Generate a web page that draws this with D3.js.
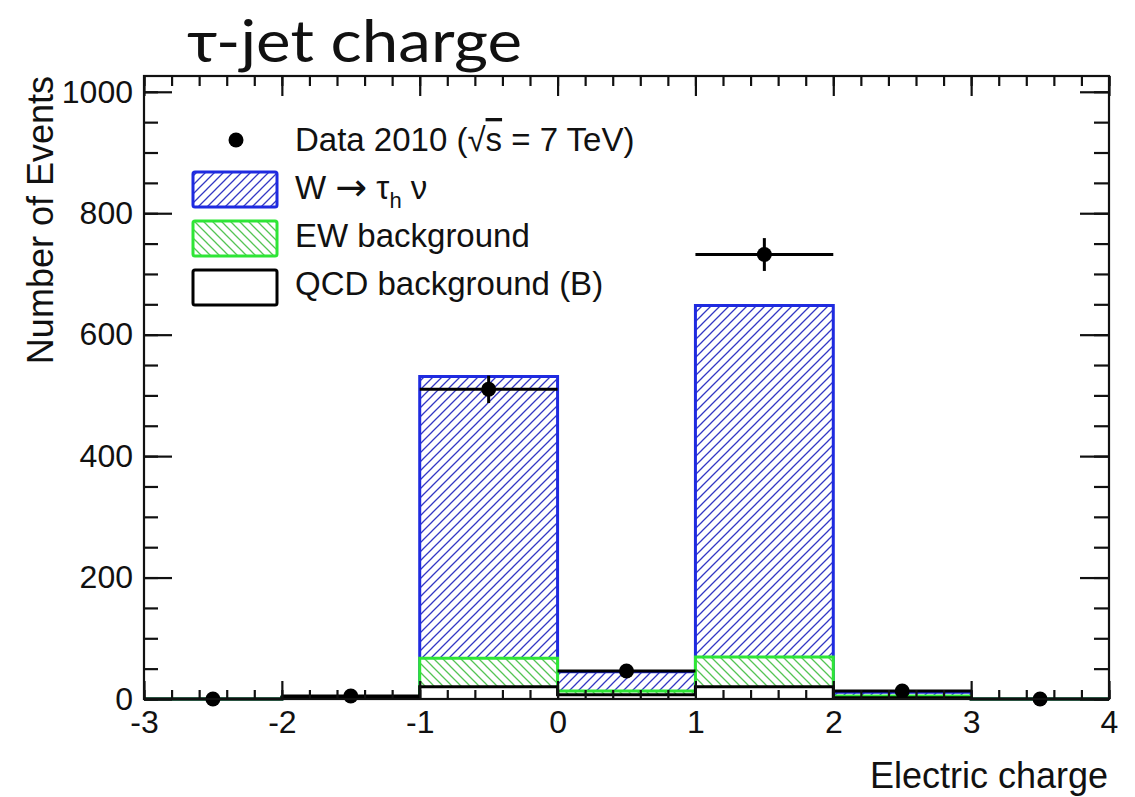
<!DOCTYPE html>
<html>
<head>
<meta charset="utf-8">
<script src="https://cdn.jsdelivr.net/npm/d3@7"></script>
<style>
  body { margin: 0; background: #fff; }
  text { font-family: "Liberation Sans", Arial, sans-serif; fill: #111; }
</style>
</head>
<body>
<div id="chart"></div>
<script>
// bin edges of the tau-jet charge histogram
var binEdges = [-3, -2, -1, 0, 1, 2, 3, 4];
// per-bin contributions (not stacked)
var qcdBkg = [0, 3, 20, 7, 20, 2, 0];
var ewBkg  = [0, 0, 47, 6, 49, 3, 0];
var wTau   = [0, 0, 464, 32, 579, 6, 0];
// data 2010
var dataCounts = [0, 5, 510, 46, 732, 13, 0];

var xTicks = [-3, -2, -1, 0, 1, 2, 3, 4];
var yTicks = [0, 200, 400, 600, 800, 1000];

var W = 1135, H = 797;
var frame = {left: 144, right: 1109, top: 76, bottom: 699};

var svg = d3.select("#chart").append("svg")
  .attr("width", W)
  .attr("height", H);

var x = d3.scaleLinear().domain([-3, 4]).range([frame.left, frame.right]);
var y = d3.scaleLinear().domain([0, 1026]).range([frame.bottom, frame.top]);

// hatch patterns
var defs = svg.append("defs");
defs.append("pattern")
    .attr("id", "hatchBlue")
    .attr("patternUnits", "userSpaceOnUse")
    .attr("width", 9).attr("height", 9)
  .append("path")
    .attr("d", "M-1,1 L1,-1 M0,9 L9,0 M8,10 L10,8")
    .attr("stroke", "#3438c4")
    .attr("stroke-width", 1.3);
defs.append("pattern")
    .attr("id", "hatchGreen")
    .attr("patternUnits", "userSpaceOnUse")
    .attr("width", 9).attr("height", 9)
  .append("path")
    .attr("d", "M-1,8 L1,10 M0,0 L9,9 M8,-1 L10,1")
    .attr("stroke", "#55c455")
    .attr("stroke-width", 1.3);

// stacked tops
var tops1 = qcdBkg.slice();
var tops2 = qcdBkg.map(function(d, i) { return d + ewBkg[i]; });
var tops3 = tops2.map(function(d, i) { return d + wTau[i]; });

function stepPath(tops) {
  var p = "M" + x(binEdges[0]) + "," + y(0);
  tops.forEach(function(t, i) {
    p += "L" + x(binEdges[i]) + "," + y(t) + "L" + x(binEdges[i + 1]) + "," + y(t);
  });
  p += "L" + x(binEdges[binEdges.length - 1]) + "," + y(0);
  return p;
}

function drawLayer(tops, hatch, color) {
  svg.append("path").attr("d", stepPath(tops) + "Z").attr("fill", "#fff");
  if (hatch) svg.append("path").attr("d", stepPath(tops) + "Z").attr("fill", "url(#" + hatch + ")");
  svg.append("path")
    .attr("d", stepPath(tops))
    .attr("fill", "none")
    .attr("stroke", color)
    .attr("stroke-width", 3);
}

drawLayer(tops3, "hatchBlue", "#1f2be0");
drawLayer(tops2, "hatchGreen", "#2ee636");
drawLayer(tops1, null, "#000");

// data points with errors
var pts = dataCounts.map(function(n, i) {
  return {lo: binEdges[i], hi: binEdges[i + 1], n: n, err: Math.sqrt(n)};
});
var pg = svg.append("g");
pts.forEach(function(d) {
  if (d.n > 0) {
    pg.append("line")
      .attr("x1", x(d.lo)).attr("x2", x(d.hi))
      .attr("y1", y(d.n)).attr("y2", y(d.n))
      .attr("stroke", "#000").attr("stroke-width", 3);
    pg.append("line")
      .attr("x1", x((d.lo + d.hi) / 2)).attr("x2", x((d.lo + d.hi) / 2))
      .attr("y1", y(d.n - d.err)).attr("y2", y(d.n + d.err))
      .attr("stroke", "#000").attr("stroke-width", 3);
  }
  pg.append("circle")
    .attr("cx", x((d.lo + d.hi) / 2))
    .attr("cy", y(d.n))
    .attr("r", 7.5)
    .attr("fill", "#000");
});

// axes, ticks pointing inward
var fmt = function(d) { return String(d); };
var xMinor = d3.range(-3, 4.001, 0.2).map(function(v) { return Math.round(v * 10) / 10; });
var yMinor = d3.range(0, 1026, 50);

function styleAxis(g) {
  g.select(".domain").remove();
  g.selectAll(".tick line").attr("stroke", "#111").attr("stroke-width", 2.2);
  g.selectAll("text").attr("font-size", 32).attr("fill", "#111")
    .attr("font-family", "Liberation Sans, Arial, sans-serif");
}

svg.append("g").attr("transform", "translate(0," + frame.bottom + ")")
  .call(d3.axisBottom(x).tickValues(xMinor).tickSizeInner(-9).tickFormat(""))
  .call(styleAxis);
svg.append("g").attr("transform", "translate(0," + frame.bottom + ")")
  .call(d3.axisBottom(x).tickValues(xTicks).tickSizeInner(-18).tickPadding(11).tickFormat(fmt))
  .call(styleAxis);
svg.append("g").attr("transform", "translate(0," + frame.top + ")")
  .call(d3.axisTop(x).tickValues(xMinor).tickSizeInner(-10).tickFormat(""))
  .call(styleAxis);
svg.append("g").attr("transform", "translate(0," + frame.top + ")")
  .call(d3.axisTop(x).tickValues(xTicks).tickSizeInner(-20).tickFormat(""))
  .call(styleAxis);

svg.append("g").attr("transform", "translate(" + frame.left + ",0)")
  .call(d3.axisLeft(y).tickValues(yMinor).tickSizeInner(-14).tickFormat(""))
  .call(styleAxis);
svg.append("g").attr("transform", "translate(" + frame.left + ",0)")
  .call(d3.axisLeft(y).tickValues(yTicks).tickSizeInner(-28).tickPadding(11).tickFormat(fmt))
  .call(styleAxis);
svg.append("g").attr("transform", "translate(" + frame.right + ",0)")
  .call(d3.axisRight(y).tickValues(yMinor).tickSizeInner(-15).tickFormat(""))
  .call(styleAxis);
svg.append("g").attr("transform", "translate(" + frame.right + ",0)")
  .call(d3.axisRight(y).tickValues(yTicks).tickSizeInner(-29).tickFormat(""))
  .call(styleAxis);

svg.append("rect")
  .attr("x", frame.left).attr("y", frame.top)
  .attr("width", frame.right - frame.left).attr("height", frame.bottom - frame.top)
  .attr("fill", "none").attr("stroke", "#111").attr("stroke-width", 2.2);

// axis titles
svg.append("text")
  .attr("transform", "translate(53,76) rotate(-90)")
  .attr("text-anchor", "end")
  .attr("font-size", 36)
  .text("Number of Events");
svg.append("text")
  .attr("x", 1108).attr("y", 788)
  .attr("text-anchor", "end")
  .attr("font-size", 36)
  .text("Electric charge");

// title
svg.append("text")
  .attr("x", 187).attr("y", 62)
  .attr("font-size", 58)
  .style("font-family", "Lato, 'Noto Sans', sans-serif")
  .attr("textLength", 335)
  .attr("lengthAdjust", "spacingAndGlyphs")
  .text("τ-jet charge");

// legend
var leg = svg.append("g");
leg.append("circle").attr("cx", 236).attr("cy", 140).attr("r", 7.5).attr("fill", "#000");
var swatches = [
  {y: 172, hatch: "hatchBlue", color: "#1f2be0"},
  {y: 221, hatch: "hatchGreen", color: "#2ee636"},
  {y: 270, hatch: null, color: "#000"}
];
swatches.forEach(function(s) {
  leg.append("rect").attr("x", 193).attr("y", s.y).attr("width", 84).attr("height", 35)
    .attr("fill", s.hatch ? "url(#" + s.hatch + ")" : "#fff")
    .attr("stroke", s.color).attr("stroke-width", 3).attr("rx", 2);
});
var t1 = leg.append("text").attr("x", 295).attr("y", 151).attr("font-size", 33);
t1.append("tspan").text("Data 2010 (√");
t1.append("tspan").style("text-decoration", "overline").text("s");
t1.append("tspan").text(" = 7 TeV)");
var t2 = leg.append("text").attr("x", 295).attr("y", 199).attr("font-size", 33);
t2.append("tspan").text("W ");
t2.append("tspan").attr("font-family", "DejaVu Sans").attr("font-size", 38).attr("dy", 1).text("→");
t2.append("tspan").attr("dy", -1).text(" τ");
t2.append("tspan").attr("dy", 9).attr("font-size", 22).text("h");
t2.append("tspan").attr("dy", -9).text(" ν");
leg.append("text").attr("x", 295).attr("y", 247).attr("font-size", 33).text("EW background");
leg.append("text").attr("x", 295).attr("y", 295).attr("font-size", 33).text("QCD background (B)");
</script>
</body>
</html>
